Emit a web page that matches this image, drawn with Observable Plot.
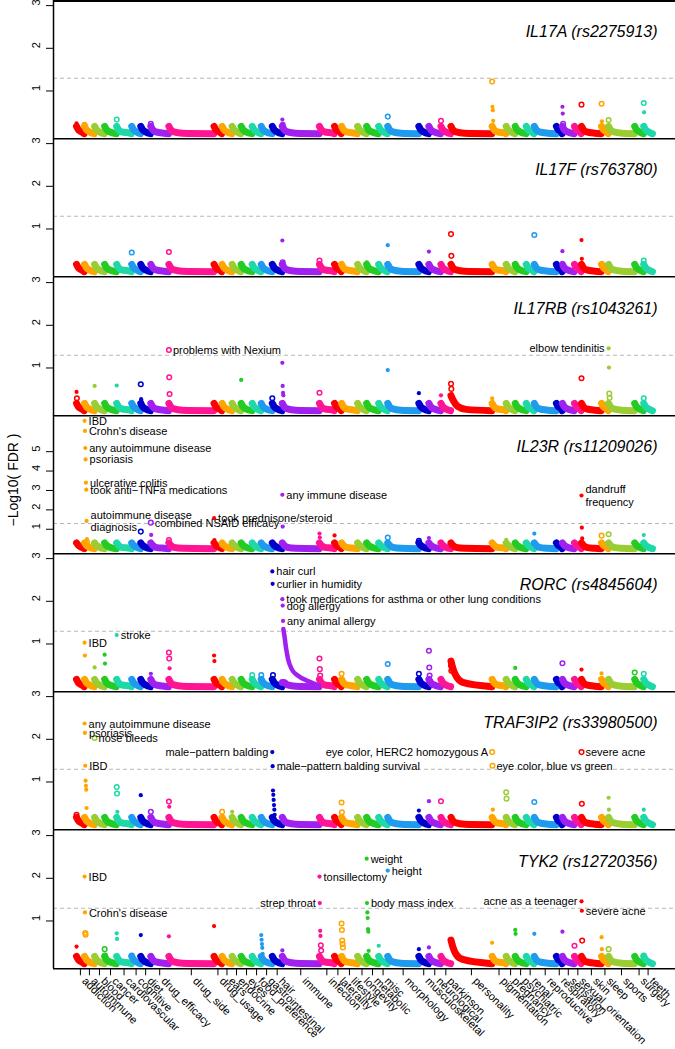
<!DOCTYPE html>
<html><head><meta charset="utf-8">
<script src="https://cdn.jsdelivr.net/npm/d3@7"></script>
<script src="https://cdn.jsdelivr.net/npm/@observablehq/plot@0.6"></script>
<style>
body{margin:0;background:#fff;}
#chart{position:relative;width:675px;height:1049px;font-family:"Liberation Sans",Arial,sans-serif;overflow:hidden;}
#chart svg{display:block;overflow:visible;}
#ylab{position:absolute;left:13px;top:480px;transform:translate(-50%,-50%) rotate(-90deg);font-size:14px;white-space:nowrap;color:#000;}
</style></head><body>
<div id="chart"><div id="ylab">−Log10( FDR )</div></div>
<script>
// ---------------- data ----------------
const categories = ["addiction","autoimmune","blood","cancer","cardiovascular","cognitive","diet","drug_efficacy","drug_side","drug_usage","ears","endocrine","eyes","food_preference","gastrointestinal","hair","immune","infection","laterality","lifestyle","longevity","metabolic","misc","morphology","musculoskeletal","neurological","parkinson","personality","pigmentation","pregnancy","psychiatric","renal","reproductive","respiratory","sensation","sexual_orientation","skin","sleep","sports","surgery","teeth"];
// number of phenotypes in each category
const categorySizes = [24,30,30,36,45,27,30,54,135,24,30,27,33,27,33,30,111,45,21,48,27,36,27,93,30,36,30,123,42,27,33,24,66,18,36,21,60,21,78,27,27];
const palette = ["#FF0000","#FFA500","#9ACD32","#22CC22","#1FD8A8","#1E9BEF","#0000CD","#A020F0","#FF1493"];
const genes = ["IL17A (rs2275913)","IL17F (rs763780)","IL17RB (rs1043261)","IL23R (rs11209026)","RORC (rs4845604)","TRAF3IP2 (rs33980500)","TYK2 (rs12720356)"];
const yMax = [3,3,3,6.6,3,3,3];
const yTicks = [[1,2,3],[1,2,3],[1,2,3],[1,2,3,4,5],[1,2,3],[1,2,3],[1,2,3]];
const fdrThreshold = 1.3;
// typical shape of the bulk of each category (rank within category, -log10 FDR)
const bulkProfile = [[0,0.17],[5,0.1],[15,0.04],[40,0.01],["end",0]];
const bulkProfileTall = [[0,0.3],[5,0.18],[15,0.07],[40,0.02],["end",0]];

// notable phenotypes: [category, -log10 FDR, "f" filled / "o" open, label, label side]
const il17aPoints = [
  ["addiction",0.24,"f"],["autoimmune",0.21,"o"],["cardiovascular",0.33,"o"],["drug_efficacy",0.23,"o"],
  ["immune",0.33,"f"],["immune",0.21,"o"],["morphology",0.40,"o"],["parkinson",0.30,"o"],
  ["pigmentation",1.22,"o"],["pigmentation",0.63,"f"],["pigmentation",0.55,"f"],["pigmentation",0.30,"f"],
  ["sensation",0.63,"f"],["sensation",0.47,"f"],["sensation",0.23,"o"],["skin",0.68,"o"],
  ["sleep",0.70,"o"],["sleep",0.29,"f"],["sports",0.32,"o"],["teeth",0.72,"o"],["teeth",0.50,"f"],["teeth",0.20,"f"]
];
const il17fPoints = [
  ["cognitive",0.45,"o"],["drug_side",0.46,"o"],["immune",0.73,"f"],["immune",0.22,"o"],["infection",0.26,"o"],
  ["metabolic",0.22,"f"],["morphology",0.62,"f"],["neurological",0.47,"f"],["personality",0.88,"o"],["personality",0.37,"o"],
  ["reproductive",0.86,"o"],["respiratory",0.15,"o"],["sensation",0.48,"f"],["skin",0.74,"f"],["skin",0.30,"f"],
  ["sleep",0.18,"o"],["teeth",0.26,"o"],["teeth",0.18,"f"]
];
const il17rbPoints = [
  ["addiction",0.44,"f"],["addiction",0.29,"o"],["blood",0.58,"f"],["cardiovascular",0.59,"f"],
  ["diet",0.62,"o"],["diet",0.27,"f"],["diet",0.22,"f"],
  ["drug_side",1.42,"o","problems with Nexium","r"],["drug_side",0.78,"o"],["drug_side",0.39,"o"],
  ["eyes",0.72,"f"],["hair",0.29,"o"],["immune",1.12,"f"],["immune",0.58,"f"],["immune",0.42,"f"],["immune",0.36,"f"],
  ["infection",0.42,"o"],["morphology",0.95,"f"],["musculoskeletal",0.41,"f"],["parkinson",0.36,"f"],
  ["personality",0.63,"o"],["personality",0.51,"o"],["personality",0.39,"f"],["pigmentation",0.29,"f"],["skin",0.76,"o"],
  ["sports",1.46,"f","elbow tendinitis","l"],["sports",1.01,"f"],["sports",0.40,"o"],["sports",0.30,"o"],["teeth",0.29,"o"]
];
const il23rPoints = [
  ["autoimmune",6.59,"f","IBD","r"],["autoimmune",6.07,"f","Crohn's disease","r"],
  ["autoimmune",5.19,"f","any autoimmune disease","r"],["autoimmune",4.60,"f","psoriasis","r"],
  ["autoimmune",3.40,"f","ulcerative colitis","r"],["autoimmune",3.04,"f","took anti−TNFa medications","r"],
  ["autoimmune",1.43,"f","autoimmune disease\ndiagnosis","r"],["autoimmune",0.49,"f"],["autoimmune",0.31,"o"],
  ["diet",0.88,"o"],["drug_efficacy",1.34,"o","combined NSAID efficacy","r"],["drug_efficacy",0.71,"f"],
  ["drug_side",0.44,"o"],["drug_usage",1.57,"f","took prednisone/steroid","r"],["drug_usage",0.44,"f"],["ears",0.2,"o"],
  ["immune",2.78,"f","any immune disease","r"],["immune",1.14,"f"],["infection",0.78,"f"],["infection",0.57,"f"],
  ["laterality",0.68,"f"],["morphology",0.57,"o"],["musculoskeletal",0.40,"o"],["neurological",0.55,"f"],
  ["pregnancy",0.45,"f"],["reproductive",0.78,"f"],
  ["skin",2.74,"f","dandruff\nfrequency","r"],["skin",1.08,"f"],["skin",0.53,"f"],
  ["sleep",0.67,"o"],["sports",0.74,"o"],["teeth",0.70,"f"]
];
const rorcPoints = [
  ["autoimmune",1.03,"f","IBD","r"],["autoimmune",0.73,"f"],["blood",0.45,"f"],["cancer",0.75,"f"],["cancer",0.54,"f"],
  ["cardiovascular",1.21,"f","stroke","r"],["drug_efficacy",0.30,"f"],
  ["drug_side",0.80,"o"],["drug_side",0.66,"o"],["drug_side",0.43,"f"],["drug_usage",0.73,"f"],["drug_usage",0.60,"f"],
  ["ears",0.12,"o"],["food_preference",0.27,"o"],["gastrointestinal",0.27,"o"],
  ["hair",2.70,"f","hair curl","r"],["hair",2.41,"f","curlier in humidity","r"],["hair",0.27,"o"],
  ["immune",2.05,"f","took medications for asthma or other lung conditions","r"],["immune",1.90,"f","dog allergy","r"],
  ["immune",1.54,"f","any animal allergy","r"],
  ["infection",0.66,"o"],["infection",0.41,"o"],["infection",0.26,"o"],["lifestyle",0.30,"o"],["morphology",0.53,"o"],
  ["musculoskeletal",0.30,"o"],["musculoskeletal",0.22,"f"],
  ["neurological",0.84,"o"],["neurological",0.45,"o"],["neurological",0.26,"o"],
  ["personality",0.49,"o"],["personality",0.37,"o"],["psychiatric",0.44,"f"],["sensation",0.55,"o"],
  ["skin",0.40,"f"],["sleep",0.31,"f"],["surgery",0.33,"o"],["teeth",0.30,"o"]
];
const traf3ip2Points = [
  ["addiction",0.23,"o"],
  ["autoimmune",2.37,"f","any autoimmune disease","r"],["autoimmune",2.15,"f","psoriasis","r"],["autoimmune",1.38,"f","IBD","r"],
  ["autoimmune",1.03,"f"],["autoimmune",0.91,"f"],["autoimmune",0.82,"f"],["autoimmune",0.39,"f"],
  ["blood",2.03,"o","nose bleeds","r"],
  ["cardiovascular",0.88,"o"],["cardiovascular",0.73,"o"],["cardiovascular",0.30,"f"],["diet",0.69,"f"],["diet",0.14,"f"],
  ["drug_efficacy",0.30,"o"],["drug_side",0.54,"o"],["drug_side",0.42,"f"],["ears",0.30,"o"],["ears",0.15,"o"],["endocrine",0.30,"f"],
  ["hair",1.70,"f","male−pattern balding","l"],["hair",1.37,"f","male−pattern balding survival","r"],
  ["hair",0.80,"f"],["hair",0.70,"f"],["hair",0.58,"f"],["hair",0.46,"f"],["hair",0.35,"f"],["hair",0.23,"f"],
  ["lifestyle",0.52,"o"],["lifestyle",0.29,"o"],["musculoskeletal",0.33,"f"],["neurological",0.55,"f"],["parkinson",0.55,"o"],
  ["pigmentation",1.70,"o","eye color, HERC2 homozygous A","l"],["pigmentation",1.38,"o","eye color, blue vs green","r"],["pigmentation",0.35,"f"],
  ["pregnancy",0.76,"o"],["pregnancy",0.61,"o"],["reproductive",0.53,"o"],
  ["skin",1.70,"o","severe acne","r"],["skin",0.49,"o"],["sports",0.63,"f"],["sports",0.35,"f"],["teeth",0.35,"f"]
];
const tyk2Points = [
  ["addiction",0.40,"f"],
  ["autoimmune",2.04,"f","IBD","r"],["autoimmune",1.20,"f","Crohn's disease","r"],["autoimmune",0.72,"o"],["autoimmune",0.68,"o"],
  ["cancer",0.34,"o"],["cancer",0.19,"o"],["cardiovascular",0.71,"f"],["cardiovascular",0.58,"f"],["cognitive",0.19,"o"],
  ["diet",0.67,"f"],["drug_side",0.64,"f"],["drug_usage",0.88,"f"],
  ["gastrointestinal",0.67,"f"],["gastrointestinal",0.56,"f"],["gastrointestinal",0.46,"f"],["gastrointestinal",0.37,"f"],["gastrointestinal",0.23,"f"],
  ["immune",0.31,"f"],
  ["infection",2.04,"f","tonsillectomy","r"],["infection",1.42,"f","strep throat","l"],["infection",0.77,"f"],["infection",0.65,"f"],
  ["infection",0.43,"o"],["infection",0.31,"o"],
  ["lifestyle",0.94,"o"],["lifestyle",0.79,"o"],["lifestyle",0.54,"o"],["lifestyle",0.46,"o"],["lifestyle",0.38,"o"],
  ["metabolic",2.46,"f","weight","r"],["metabolic",1.42,"f","body mass index","r"],["metabolic",1.20,"f"],["metabolic",1.07,"f"],
  ["metabolic",0.81,"f"],["metabolic",0.75,"f"],["metabolic",0.30,"f"],
  ["misc",0.42,"f"],["morphology",2.18,"f","height","r"],["musculoskeletal",0.34,"f"],["neurological",0.38,"f"],
  ["pigmentation",0.49,"f"],["psychiatric",0.79,"f"],["psychiatric",0.70,"f"],["reproductive",0.70,"f"],["sensation",0.75,"f"],
  ["sexual_orientation",0.42,"o"],
  ["skin",1.46,"f","acne as a teenager","l"],["skin",1.24,"f","severe acne","r"],["skin",0.54,"o"],
  ["sleep",0.62,"f"],["sleep",0.34,"f"],["sports",0.34,"o"],["teeth",0.19,"o"]
];
// thin, tall decay of one category: [rank, -log10 FDR]
const rorcImmuneDecay = [[3,1.35],[6,1.2],[11,0.91],[17,0.65],[28,0.41],[46,0.26],[80,0.12],["end",0.03]];
// thick bulk shapes that differ from the typical one
const tyk2PersonalityBulk = [[0,0.55],[6,0.38],[15,0.22],[35,0.1],["end",0]];
const rorcPersonalityBulk = [[0,0.6],[6,0.42],[15,0.25],[35,0.1],["end",0]];
const il17rbPersonalityBulk = [[0,0.35],[8,0.22],[20,0.1],[45,0.03],["end",0]];

const panelPoints = [il17aPoints, il17fPoints, il17rbPoints, il23rPoints, rorcPoints, traf3ip2Points, tyk2Points];
const panelDecays = [{}, {}, {}, {}, {immune: rorcImmuneDecay}, {}, {}];
const panelBulk = [{}, {}, {personality: il17rbPersonalityBulk}, {}, {personality: rorcPersonalityBulk}, {}, {personality: tyk2PersonalityBulk}];

// --------------- layout helpers ---------------
const starts = []; {let a = 0; for (const n of categorySizes) {starts.push(a); a += n;}}
const total = d3.sum(categorySizes);
const L = total - 1;
const xDomain = [-0.04 * L, 1.04 * L];
const catIdx = new Map(categories.map((c, i) => [c, i]));
const catColors = categories.map((c, i) => palette[i % palette.length]);
const tickPos = categories.map((c, i) => starts[i] + (categorySizes[i] - 1) / 2);
const panelH = 968 / 7;
const font = "Liberation Sans, Arial, Helvetica, sans-serif";

function profileRows(c, i, prof) {
  const n = categorySizes[i];
  const rows = [];
  prof.forEach(([r, v]) => {
    const rr = r === "end" ? n - 1 : r;
    if (r === "end" || rr < n - 1) rows.push({cat: c, x: starts[i] + rr, y: v});
  });
  return rows;
}

function makePanel(pi) {
  const last = pi === genes.length - 1;
  const ymax = yMax[pi];
  const yDomain = [-0.04 * ymax, 1.04 * ymax];
  const pts = [];
  for (const [c, arr] of d3.group(panelPoints[pi], d => d[0])) {
    arr.slice().sort((a, b) => b[1] - a[1]).forEach((d, r) => pts.push({
      cat: c, x: starts[catIdx.get(c)] + r, y: d[1], hollow: d[2] === "o", label: d[3], side: d[4]
    }));
  }
  const bulk = [], decay = [];
  categories.forEach((c, i) => {
    const dec = panelDecays[pi][c];
    if (dec) decay.push(...profileRows(c, i, dec));
    const prof = panelBulk[pi][c] || (dec ? bulkProfile.map(([r, v]) => [r, Math.min(v, 0.1)]) : (pi === 3 ? bulkProfileTall : bulkProfile));
    bulk.push(...profileRows(c, i, prof));
  });
  const marks = [
    Plot.ruleY([fdrThreshold], {stroke: "#b8b8b8", strokeWidth: 1.1, strokeDasharray: "4,3"}),
    Plot.line(bulk, {x: "x", y: "y", z: "cat", stroke: "cat", strokeWidth: 7, strokeLinecap: "round", strokeLinejoin: "round", curve: "monotone-x"}),
    Plot.line(decay, {x: "x", y: "y", z: "cat", stroke: "cat", strokeWidth: 4.5, strokeLinecap: "round", strokeLinejoin: "round", curve: "monotone-x"}),
    Plot.dot(pts.filter(d => !d.hollow), {x: "x", y: "y", r: 2.1, fill: "cat", stroke: "none"}),
    Plot.dot(pts.filter(d => d.hollow), {x: "x", y: "y", r: 2.3, stroke: "cat", strokeWidth: 1.5, fill: "none"}),
    Plot.text(pts.filter(d => d.label && d.side === "r"), {x: "x", y: "y", text: "label", textAnchor: "start", dx: 4, fontSize: 11, fill: "#000", lineHeight: 1.15}),
    Plot.text(pts.filter(d => d.label && d.side === "l"), {x: "x", y: "y", text: "label", textAnchor: "end", dx: -4, fontSize: 11, fill: "#000", lineHeight: 1.15}),
    Plot.text([genes[pi]], {frameAnchor: "top-right", dx: -18, dy: 25, fontSize: 16, fontStyle: "italic", textAnchor: "end", fill: "#000"}),
    Plot.text(yTicks[pi], {y: d => d, frameAnchor: "left", dx: -17, rotate: -90, text: d => String(d), fontSize: 11, fill: "#000"}),
    Plot.ruleY([yDomain[0]], {stroke: "#000", strokeWidth: 1.5}),
    Plot.ruleX([xDomain[0]], {stroke: "#000", strokeWidth: 1.5})
  ];
  if (pi === 0) marks.push(Plot.ruleY([yDomain[1]], {stroke: "#000", strokeWidth: 3}));
  if (last) marks.push(Plot.text(categories, {x: (d, i) => tickPos[i], frameAnchor: "bottom", dy: 13, dx: 1, rotate: 45, textAnchor: "start", text: d => d, fontSize: 11, fill: "#000"}));
  return Plot.plot({
    width: 675,
    height: panelH + (last ? 81 : 0),
    marginLeft: 53, marginRight: 0, marginTop: 0, marginBottom: last ? 81 : 0,
    style: {fontFamily: font, fontSize: "11px", background: "transparent", overflow: "visible", color: "#000"},
    x: {domain: xDomain, axis: last ? "bottom" : null, ticks: tickPos, tickSize: 7, tickFormat: () => "", label: null},
    y: {domain: yDomain, ticks: yTicks[pi], tickSize: 7, tickFormat: () => "", label: null},
    color: {domain: categories, range: catColors},
    marks
  });
}
const chart = document.getElementById("chart");
genes.forEach((g, i) => chart.appendChild(makePanel(i)));
</script>
</body></html>
